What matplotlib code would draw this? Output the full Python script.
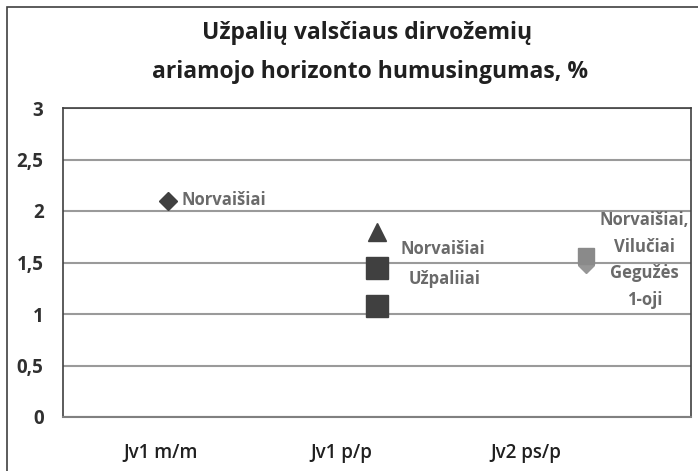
import matplotlib
matplotlib.use("Agg")
import matplotlib.pyplot as plt
from matplotlib.patches import Rectangle

plt.rcParams['font.family'] = ['Open Sans', 'DejaVu Sans']

title_lines = ["Užpalių valsčiaus dirvožemių", "ariamojo horizonto humusingumas, %"]
categories = ["Jv1 m/m", "Jv1 p/p", "Jv2 ps/p"]
yticks = [0, 0.5, 1, 1.5, 2, 2.5, 3]
ytick_labels = ["0", "0,5", "1", "1,5", "2", "2,5", "3"]

# series: (category index, value)
diamond_cat, diamond_val = [1], [2.1]
triangle_cat, triangle_val = [2], [1.8]
square_cat, square_val = [2, 2], [1.45, 1.08]
gray_square_cat, gray_square_val = [3], [1.56]
light_diamond_cat, light_diamond_val = [3], [1.48]

fig = plt.figure(figsize=(6.98, 4.71), dpi=100)
fig.patches.append(Rectangle((7/698, -0.1), 1.2, 1 - 7/471 + 0.1, transform=fig.transFigure,
                             fill=False, edgecolor='#404040', linewidth=1.2))
ax = fig.add_axes([63/698, 1 - 417/471, (691-63)/698, (417-108)/471])
ax.set_xlim(0.5, 3.5)
ax.set_ylim(0, 3)
ax.set_yticks(yticks)
ax.set_yticklabels(ytick_labels, fontsize=13.5, fontweight='bold', color='#303030')
ax.tick_params(axis='y', length=0, pad=14)
label_pos = [0.964, 1.83, 2.71]
ax.set_xticks(label_pos)
ax.set_xticklabels(categories, fontsize=13.5, fontweight='semibold', color='#202020')
ax.tick_params(axis='x', length=0, pad=19)
ax.grid(axis='y', color='#9a9a9a', linewidth=1.5)
ax.set_axisbelow(True)
for s in ['left', 'top', 'right']:
    ax.spines[s].set_color('#404040')
    ax.spines[s].set_linewidth(1.2)
ax.spines['bottom'].set_color('#808080')
ax.spines['bottom'].set_linewidth(1.5)

dark = '#404040'
ax.plot(diamond_cat, diamond_val, 'D', color=dark, markersize=9, linestyle='none')
ax.plot(triangle_cat, triangle_val, '^', color=dark, markersize=12.5, linestyle='none')
ax.plot(square_cat, square_val, 's', color=dark, markersize=15.5, linestyle='none')
ax.plot(light_diamond_cat, light_diamond_val, 'D', color='#969696', markersize=8, linestyle='none')
ax.plot(gray_square_cat, gray_square_val, 's', color='#8a8a8a', markersize=12, linestyle='none')

tc = '#6a6a6a'
kw = dict(fontsize=12, fontweight='bold', color=tc, va='center')
ax.annotate("Norvaišiai", (1, 2.107), xytext=(10, 0), textcoords='offset points', ha='left', **kw)
ax.annotate("Norvaišiai", (2, 1.631), xytext=(47.5, 0), textcoords='offset points', ha='center', **kw)
ax.annotate("Užpaliiai", (2, 1.34), xytext=(48.5, 0), textcoords='offset points', ha='center', **kw)
for txt, yy in zip(["Norvaišiai,", "Vilučiai", "Gegužės", "1-oji"], [1.913, 1.65, 1.398, 1.136]):
    ax.annotate(txt, (3, yy), xytext=(42, 0), textcoords='offset points', ha='center', **kw)

fig.text(367/698, 1 - 33/471, title_lines[0], ha='center', va='center', fontsize=16.5,
         fontweight='bold', color='#202020')
fig.text(370/698, 1 - 72/471, title_lines[1], ha='center', va='center', fontsize=16.5,
         fontweight='bold', color='#202020')

fig.savefig("out.png", dpi=100)
